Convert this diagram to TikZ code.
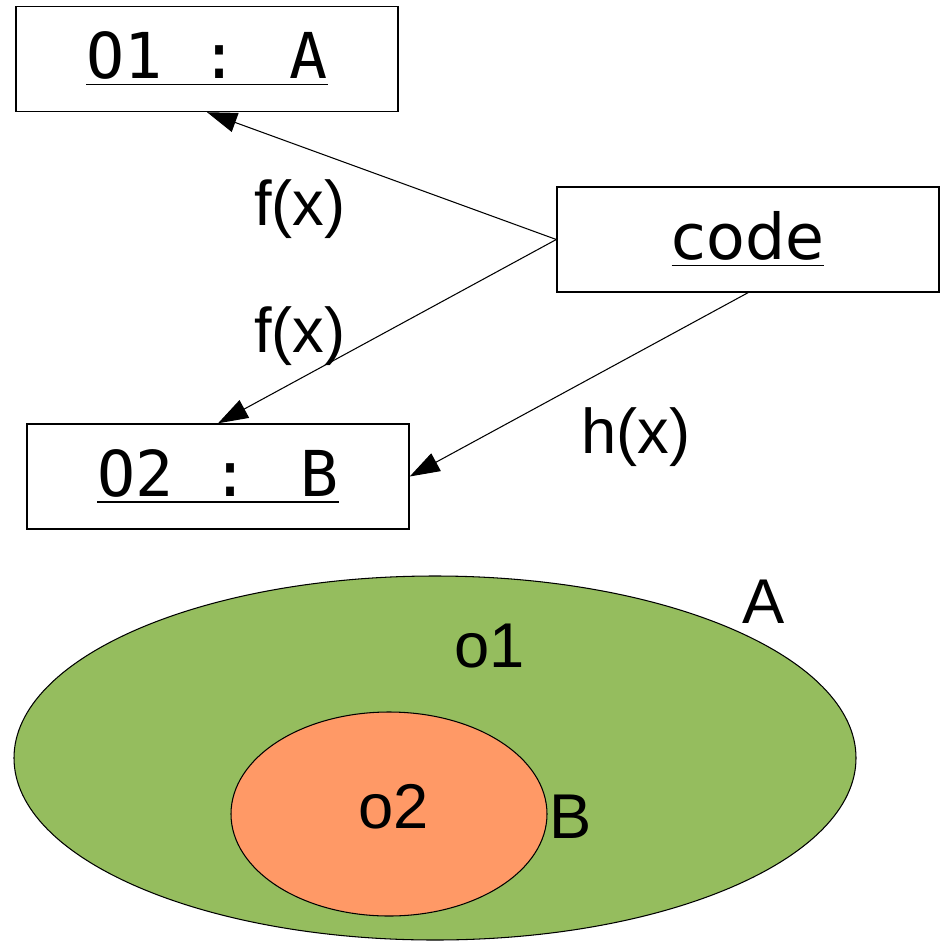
\documentclass[tikz,border=0pt]{standalone}
\usepackage{fontspec}
\usepackage{tikz}
\usetikzlibrary{arrows.meta,positioning}
\setmainfont{Liberation Sans}
\newfontfamily\objfont{DejaVu Sans Mono}
\newfontfamily\codefont{DejaVu Sans}
\definecolor{setgreen}{HTML}{95BD5E}
\definecolor{setorange}{HTML}{FF9966}

\begin{document}
\begin{tikzpicture}[
    objbox/.style={draw,line width=0.4pt,fill=white,minimum width=3.82cm,minimum height=1.05cm,inner sep=0pt},
    msg/.style={-{Triangle[length=3mm,width=2mm]},line width=0.3pt},
    lbl/.style={anchor=base,inner sep=0pt}
  ]
  \useasboundingbox (0,0) rectangle (9.41,-9.41);
  \fontsize{18}{21}\selectfont

  % Sets
  \filldraw[fill=setgreen,draw=black,line width=0.3pt] (4.35,-7.58) ellipse [x radius=4.21cm,y radius=1.82cm];
  \filldraw[fill=setorange,draw=black,line width=0.3pt] (3.89,-8.14) ellipse [x radius=1.58cm,y radius=1.02cm];
  \node[lbl] (labo1) at (4.90,-6.67) {o1};
  \node[lbl] (labA) at (7.64,-6.23) {A};
  \node[lbl] (labo2) at (3.94,-8.28) {o2};
  \node[lbl] (labB) at (5.71,-8.38) {B};

  % Objects
  \node[objbox] (o1) at (2.07,-0.59) {\objfont\underline{O1 : A}};
  \node[objbox] (code) at (7.48,-2.395) {\codefont\underline{code}};
  \node[objbox] (o2) at (2.18,-4.765) {\objfont\underline{O2 : B}};

  % Calls
  \draw[msg] (code.west) -- (o1.south);
  \draw[msg] (code.west) -- (o2.north);
  \draw[msg] (code.south) -- (o2.east);
  \node[lbl] (f1) at (3.00,-2.25) {f(x)};
  \node[lbl] (f2) at (3.00,-3.52) {f(x)};
  \node[lbl] (h) at (6.36,-4.53) {h(x)};
\end{tikzpicture}
\end{document}
